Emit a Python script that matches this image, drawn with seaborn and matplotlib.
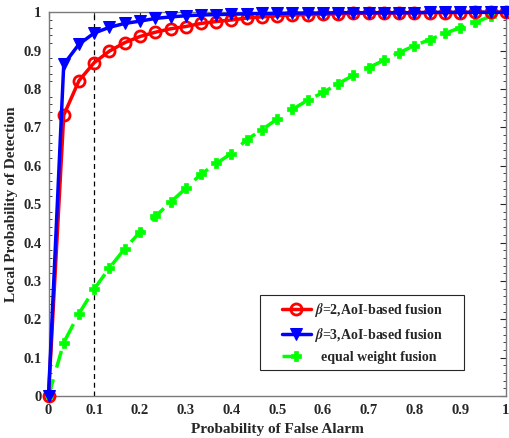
import numpy as np
import pandas as pd
import matplotlib
matplotlib.use("Agg")
import matplotlib.pyplot as plt
import seaborn as sns
from matplotlib.ticker import MultipleLocator
from matplotlib.patches import Rectangle

pfa = [0, 0.0333, 0.0667, 0.1, 0.1333, 0.1667, 0.2, 0.2333, 0.2667, 0.3, 0.3333,
       0.3667, 0.4, 0.4333, 0.4667, 0.5, 0.5333, 0.5667, 0.6, 0.6333, 0.6667,
       0.7, 0.7333, 0.7667, 0.8, 0.8333, 0.8667, 0.9, 0.9333, 0.9667, 1.0]
pd_beta2 = [0, 0.732, 0.822, 0.869, 0.899, 0.921, 0.937, 0.948, 0.957, 0.963, 0.971,
            0.976, 0.980, 0.985, 0.988, 0.991, 0.993, 0.994, 0.995, 0.996, 0.997,
            0.998, 0.998, 0.998, 0.999, 0.999, 0.999, 0.999, 1.0, 1.0, 1.0]
pd_beta3 = [0, 0.864, 0.917, 0.946, 0.961, 0.971, 0.977, 0.984, 0.988, 0.991, 0.993,
            0.994, 0.995, 0.996, 0.997, 0.997, 0.998, 0.998, 0.998, 0.999, 0.999,
            0.999, 0.999, 0.999, 0.999, 1.0, 1.0, 1.0, 1.0, 1.0, 1.0]
pd_equal = [0, 0.139, 0.215, 0.279, 0.334, 0.384, 0.427, 0.468, 0.505, 0.541, 0.578,
            0.606, 0.632, 0.668, 0.694, 0.722, 0.747, 0.771, 0.791, 0.814, 0.836,
            0.856, 0.875, 0.895, 0.913, 0.929, 0.945, 0.960, 0.974, 0.990, 1.0]
labels = [r"$\beta$=2,AoI-based fusion", r"$\beta$=3,AoI-based fusion", "  equal weight fusion"]
xticks = [0, 0.1, 0.2, 0.3, 0.4, 0.5, 0.6, 0.7, 0.8, 0.9, 1]
yticks = [0, 0.1, 0.2, 0.3, 0.4, 0.5, 0.6, 0.7, 0.8, 0.9, 1]

sns.set_style("white")
plt.rcParams['font.family'] = ['Liberation Serif', 'DejaVu Serif']
plt.rcParams['font.weight'] = 'bold'
plt.rcParams['mathtext.fontset'] = 'stix'

fig = plt.figure(figsize=(5.09, 4.38), dpi=100)
ax = fig.add_axes([0.0953, 0.0959, 0.8987, 0.8760])

ax.axvline(0.1, color='black', lw=0.9, ls=(0, (4, 3)), zorder=1)

sns.lineplot(x=pfa, y=pd_beta2, ax=ax, color='#ff0000', lw=2.5, marker='o', ms=8,
             mfc='none', mec='#ff0000', mew=2, label=labels[0], zorder=3, clip_on=False)
sns.lineplot(x=pfa, y=pd_beta3, ax=ax, color='#0000ff', lw=2.5, marker='v', ms=9,
             mfc='#0000ff', mec='#0000ff', label=labels[1], zorder=4, clip_on=False)
sns.lineplot(x=pfa, y=pd_equal, ax=ax, color='#00ff00', lw=2.5, marker='P', ms=7,
             mfc='#00ff00', mec='#00ff00', mew=0.5, label=labels[2], zorder=2, clip_on=False)
ax.lines[-1].set_dashes([5, 3.5])

ax.set_xlim(0, 1)
ax.set_ylim(0, 1)
ax.set_xticks(xticks)
ax.set_xticklabels([str(t) for t in xticks])
ax.set_yticks(yticks)
ax.set_yticklabels([str(t) for t in yticks])
ax.yaxis.set_minor_locator(MultipleLocator(0.02))
ax.tick_params(axis='both', which='both', direction='in', top=True, right=True,
               colors='#262626', labelsize=10.5)
ax.tick_params(axis='y', which='minor', length=2.5, left=True, right=True)
ax.tick_params(axis='both', which='major', length=4)
ax.tick_params(axis='x', which='major', pad=6)
ax.tick_params(axis='y', which='major', pad=5)
for lab in ax.get_xticklabels() + ax.get_yticklabels():
    lab.set_fontweight('bold')
for s in ax.spines.values():
    s.set_color('#7a7a7a')
    s.set_linewidth(1.0)
    s.set_visible(True)

ax.set_xlabel("Probability of False Alarm", fontsize=11, fontweight='bold', color='#262626', labelpad=4)
ax.set_ylabel("Local Probability of Detection", fontsize=11, fontweight='bold', color='#262626', labelpad=4)

# legend frame
ax.add_patch(Rectangle((0.4623, 0.0678), 0.4459, 0.1954, transform=ax.transAxes,
                       facecolor='white', edgecolor='#262626', lw=0.8, zorder=9, clip_on=False))
leg = ax.legend(loc='upper left', bbox_to_anchor=(0.510, 0.247), fontsize=10,
                frameon=False, handlelength=2.1, handletextpad=0.2,
                borderpad=0, borderaxespad=0, labelspacing=0.5)
leg.set_zorder(10)
for t in leg.get_texts():
    t.set_fontweight('bold')

fig.savefig("out.png", dpi=100)
